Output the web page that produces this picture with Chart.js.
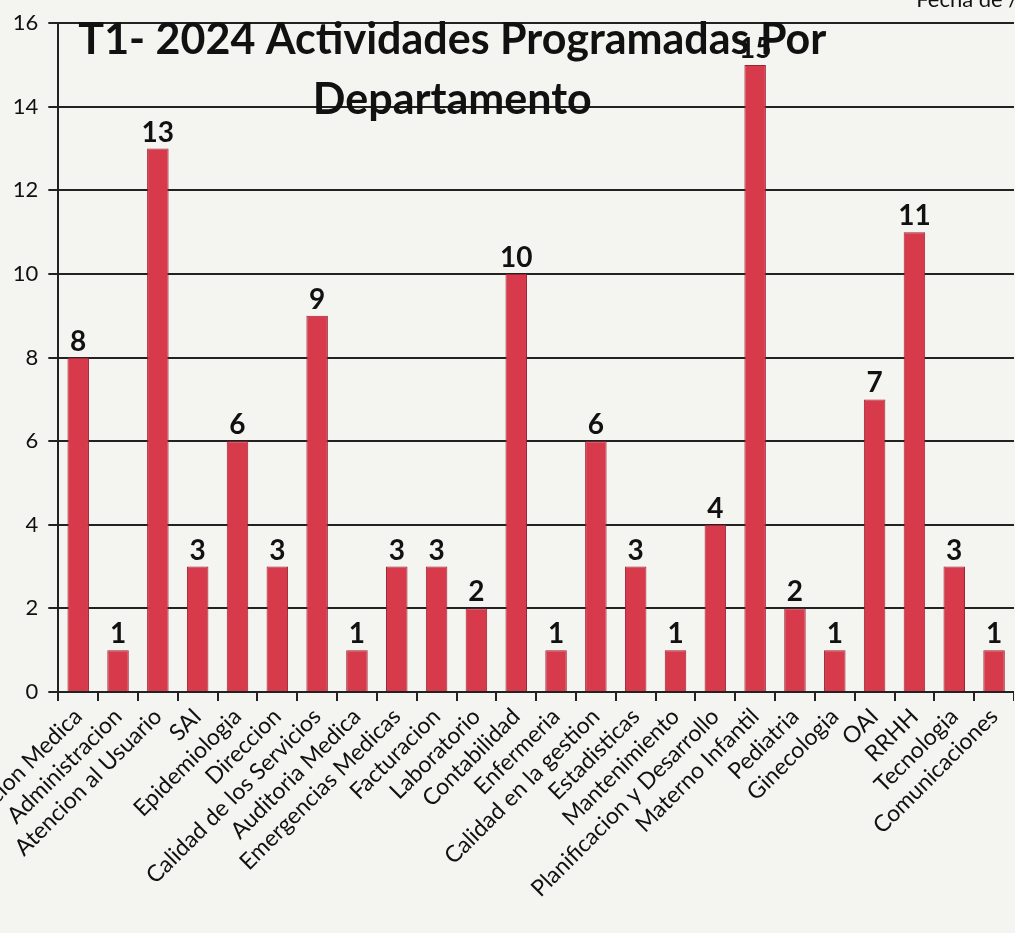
<!DOCTYPE html>
<html lang="es">
<head>
  <meta charset="UTF-8" />
  <title>T1- 2024 Actividades Programadas Por Departamento</title>
  <style>
    html, body { margin: 0; padding: 0; background: #f4f4f1; overflow: hidden; }
    #wrap { position: absolute; top: 0; left: 0; }
  </style>
</head>
<body>
  <div id="wrap"><canvas id="grafico" width="1300" height="933"></canvas></div>

<script src="https://cdn.jsdelivr.net/npm/chart.js"></script>
<script>
  // datos del grafico
  const departamentos = [
    "Subdireccion Medica", "Administracion", "Atencion al Usuario", "SAI", "Epidemiologia",
    "Direccion", "Calidad de los Servicios", "Auditoria Medica", "Emergencias Medicas",
    "Facturacion", "Laboratorio", "Contabilidad", "Enfermeria", "Calidad en la gestion",
    "Estadisticas", "Mantenimiento", "Planificacion y Desarrollo", "Materno Infantil",
    "Pediatria", "Ginecologia", "OAI", "RRHH", "Tecnologia", "Comunicaciones"
  ];
  const actividades = [8, 1, 13, 3, 6, 3, 9, 1, 3, 3, 2, 10, 1, 6, 3, 1, 4, 15, 2, 1, 7, 11, 3, 1];
  const ticksY = [0, 2, 4, 6, 8, 10, 12, 14, 16];

  const tituloLineas = ["T1- 2024 Actividades Programadas Por", "Departamento"];

  // valores encima de cada barra
  const etiquetas = {
    id: "etiquetas",
    afterDatasetsDraw(chart) {
      const ctx = chart.ctx;
      const meta = chart.getDatasetMeta(0);
      ctx.save();
      ctx.fillStyle = "#111";
      ctx.font = "bold 28px Lato";
      ctx.textAlign = "center";
      ctx.textBaseline = "bottom";
      meta.data.forEach((bar, i) => {
        ctx.fillText(actividades[i], bar.x, bar.y - 2);
      });
      ctx.restore();
    }
  };

  // titulo dibujado dentro del area del grafico
  const titulo = {
    id: "titulo",
    afterDraw(chart) {
      const ctx = chart.ctx;
      const cx = chart.chartArea.left + 394;
      ctx.save();
      ctx.fillStyle = "#111";
      ctx.textAlign = "center";
      ctx.textBaseline = "middle";
      ctx.font = "bold 43px Lato";
      ctx.fillText(tituloLineas[0], cx, 40);
      ctx.fillText(tituloLineas[1], cx, 100);
      ctx.font = "22px Lato";
      ctx.textAlign = "right";
      ctx.fillText("Fecha de /", chart.chartArea.left + 960, 0);
      ctx.restore();
    }
  };

  const canvas = document.getElementById("grafico");
  let grafico;

  function crear(ancho) {
    if (grafico) grafico.destroy();
    canvas.width = ancho;
    canvas.height = 933;
    canvas.style.width = ancho + "px";
    canvas.style.height = "933px";
    grafico = new Chart(canvas, {
      type: "bar",
      data: {
        labels: departamentos,
        datasets: [{
          data: actividades,
          backgroundColor: "#d63a4b",
          borderColor: "#9e2233",
          borderWidth: 1,
          barPercentage: 0.72,
          categoryPercentage: 0.75
        }]
      },
      options: {
        responsive: false,
        animation: false,
        devicePixelRatio: 1,
        layout: { padding: { top: 20, bottom: 0, right: 0, left: 0 } },
        scales: {
          y: {
            min: 0,
            max: 16,
            afterBuildTicks(scale) {
              scale.ticks = ticksY.map(v => ({ value: v }));
            },
            ticks: {
              color: "#111",
              font: { size: 22, family: "Lato" },
              padding: 10
            },
            grid: {
              color: "#222",
              lineWidth: 2,
              tickLength: 10
            },
            border: { color: "#222", width: 2 }
          },
          x: {
            afterFit(scale) {
              scale.height = 241;
            },
            ticks: {
              color: "#111",
              font: { size: 23, family: "Lato" },
              minRotation: 45,
              maxRotation: 45,
              autoSkip: false,
              padding: 2
            },
            grid: {
              offset: true,
              drawOnChartArea: false,
              color: "#222",
              lineWidth: 2,
              tickLength: 9
            },
            border: { color: "#222", width: 2 }
          }
        },
        plugins: {
          legend: { display: false },
          title: { display: false },
          tooltip: { enabled: false }
        }
      },
      plugins: [etiquetas, titulo]
    });
  }

  // ajustar el ancho para que el eje x mida 960px y colocar el eje y en x=58
  crear(1300);
  const area = grafico.chartArea;
  const nuevoAncho = 1300 + (960 - (area.right - area.left));
  crear(Math.round(nuevoAncho));
  document.getElementById("wrap").style.left = (58 - grafico.chartArea.left) + "px";
</script>
</body>
</html>
